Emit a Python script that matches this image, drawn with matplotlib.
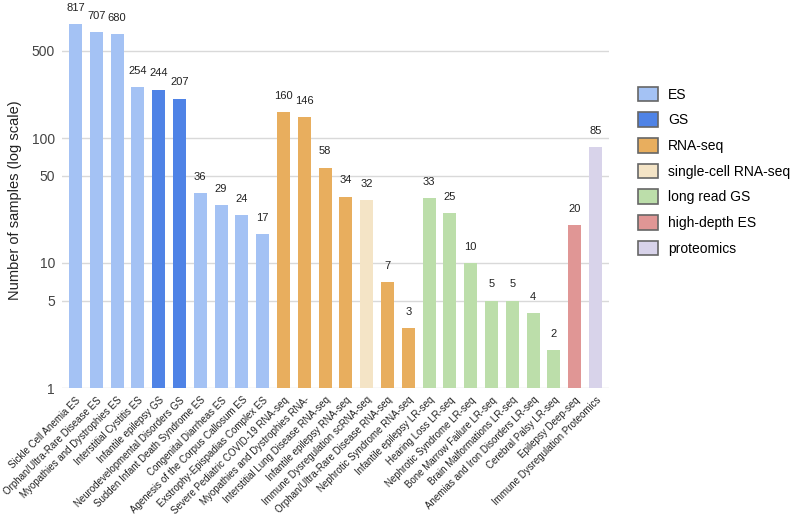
import numpy as np
import matplotlib.pyplot as plt
from matplotlib.patches import Patch

plt.rcParams['font.family'] = ['Liberation Sans', 'DejaVu Sans']

labels = [
    'Sickle Cell Anemia ES', 'Orphan/Ultra-Rare Disease ES', 'Myopathies and Dystrophies ES',
    'Interstitial Cystitis ES', 'Infantile epilepsy GS', 'Neurodevelopmental Disorders GS',
    'Sudden Infant Death Syndrome ES', 'Congenital Diarrheas ES', 'Agenesis of the Corpus Callosum ES',
    'Exstrophy-Epispadias Complex ES', 'Severe Pediatric COVID-19 RNA-seq',
    'Myopathies and Dystrophies RNA-', 'Interstitial Lung Disease RNA-seq',
    'Infantile epilepsy RNA-seq', 'Immune Dysregulation scRNA-seq',
    'Orphan/Ultra-Rare Disease RNA-seq', 'Nephrotic Syndrome RNA-seq',
    'Infantile epilepsy LR-seq', 'Hearing Loss LR-seq', 'Nephrotic Syndrome LR-seq',
    'Bone Marrow Failure LR-seq', 'Brain Malformations LR-seq',
    'Anemias and Iron Disorders LR-seq', 'Cerebral Palsy LR-seq',
    'Epilepsy Deep-seq', 'Immune Dysregulation Proteomics',
]
values = [817, 707, 680, 254, 244, 207, 36, 29, 24, 17, 160, 146, 58, 34, 32, 7, 3,
          33, 25, 10, 5, 5, 4, 2, 20, 85]
types = ['ES', 'ES', 'ES', 'ES', 'GS', 'GS', 'ES', 'ES', 'ES', 'ES',
         'RNA-seq', 'RNA-seq', 'RNA-seq', 'RNA-seq', 'single-cell RNA-seq', 'RNA-seq', 'RNA-seq',
         'long read GS', 'long read GS', 'long read GS', 'long read GS', 'long read GS',
         'long read GS', 'long read GS', 'high-depth ES', 'proteomics']

type_names = ['ES', 'GS', 'RNA-seq', 'single-cell RNA-seq', 'long read GS', 'high-depth ES', 'proteomics']
type_colors = ['#a4c2f4', '#4f83e6', '#e8ae5e', '#f4e4c6', '#bcdeaa', '#e09695', '#d8d3ea']
cmap = dict(zip(type_names, type_colors))

fig = plt.figure(figsize=(8, 5.22), dpi=100)
ax = fig.add_axes([62 / 800, 1 - 388 / 522, (609 - 62) / 800, (388 - 13) / 522])

x = np.arange(len(values))
ax.bar(x, values, width=0.63, color=[cmap[t] for t in types], zorder=3)
for xi, v in zip(x, values):
    ax.annotate(str(v), (xi, v), xytext=(0, 9.5), textcoords='offset points',
                ha='center', va='baseline', fontsize=8, color='#222222', annotation_clip=False)

ax.set_yscale('log')
ax.set_ylim(1, 1000)
ax.set_xlim(-0.65, len(values) - 0.35)
yt = [1, 5, 10, 50, 100, 500]
ax.set_yticks(yt)
ax.set_yticklabels([str(t) for t in yt], fontsize=10, color='#444444')
ax.yaxis.set_minor_locator(plt.NullLocator())
ax.grid(axis='y', color='#d9d9d9', linewidth=1, zorder=0)
ax.tick_params(axis='y', length=0, pad=5)
ax.tick_params(axis='x', length=0, pad=5)
ax.set_xticks(x)
ax.set_xticklabels(labels, rotation=45, ha='right', rotation_mode='anchor', fontsize=7, color='#222222')
for s in ax.spines.values():
    s.set_visible(False)
ax.set_ylabel('Number of samples (log scale)', fontsize=10.5, color='#222222', labelpad=7)

handles = [Patch(facecolor=c, edgecolor='#666666', linewidth=1.2) for c in type_colors]
fig.legend(handles, type_names, loc='upper left', bbox_to_anchor=(632 / 800, 1 - 81 / 522),
           frameon=False, fontsize=10, handlelength=1.45, handleheight=1.25,
           labelspacing=0.77, handletextpad=0.75, borderaxespad=0)

fig.savefig('out.png', dpi=100)
